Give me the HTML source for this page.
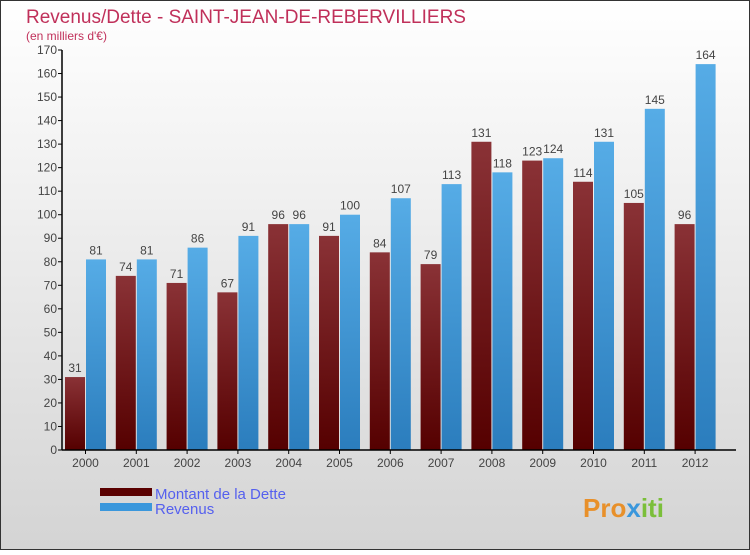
<!DOCTYPE html>
<html><head><meta charset="utf-8"><style>
body{margin:0;width:750px;height:550px;overflow:hidden}
svg text{font-family:"Liberation Sans",sans-serif}
</style></head><body>
<svg id="c" width="750" height="550" xmlns="http://www.w3.org/2000/svg">
<defs>
<linearGradient id="bg" x1="0" y1="0" x2="0" y2="1"><stop offset="0" stop-color="#ffffff"/><stop offset="1" stop-color="#d4d4d4"/></linearGradient>
<linearGradient id="gd" x1="0" y1="0" x2="0" y2="1"><stop offset="0" stop-color="#8a3236"/><stop offset="1" stop-color="#550000"/></linearGradient>
<linearGradient id="gr" x1="0" y1="0" x2="0" y2="1"><stop offset="0" stop-color="#56ace6"/><stop offset="1" stop-color="#2b7dbd"/></linearGradient>
</defs>
<rect x="0.5" y="0.5" width="749" height="549" fill="url(#bg)" stroke="#333"/>
<text x="26" y="23" font-size="19" fill="#c0305a">Revenus/Dette - SAINT-JEAN-DE-REBERVILLIERS</text>
<text x="26" y="40" font-size="12" fill="#c0305a">(en milliers d'€)</text>
<g id="plot"></g>
<rect x="100" y="488" width="52" height="8" fill="#5a0000"/>
<text x="155" y="499" font-size="15" fill="#5560ee">Montant de la Dette</text>
<rect x="100" y="503" width="52" height="8" fill="#3a97dc"/>
<text x="155" y="514" font-size="15" fill="#5560ee">Revenus</text>
<text x="583" y="517" font-size="26" font-weight="bold" fill="#e8902a">Pro<tspan fill="#3a97dc">x</tspan><tspan fill="#7bbf3a">iti</tspan></text>
</svg>
<script>
const years=["2000","2001","2002","2003","2004","2005","2006","2007","2008","2009","2010","2011","2012"];
const dette=[31,74,71,67,96,91,84,79,131,123,114,105,96];
const revenus=[81,81,86,91,96,100,107,113,118,124,131,145,164];
const yTicks=[0,10,20,30,40,50,60,70,80,90,100,110,120,130,140,150,160,170];
const NS="http://www.w3.org/2000/svg";
const g=document.getElementById('plot');
const x0=62,groupW=50.8,y0=450,yMax=170,h=400;
const y=v=>y0-v/yMax*h;
const gx=i=>x0+i*groupW;
function mk(t,a){const e=document.createElementNS(NS,t);for(const k in a)e.setAttribute(k,a[k]);g.appendChild(e);return e;}
yTicks.forEach(v=>{
 const l=mk('line',{x1:x0-4,x2:x0,y1:y(v),y2:y(v),stroke:'#000'});
 
 
 const t=mk('text',{x:x0-5,y:y(v)+4,'font-size':12,'text-anchor':'end',fill:'#444'});
 t.textContent=v;
 
 
});
years.forEach((yr,i)=>{
 const bx=gx(i)+3;
 const b1=mk('rect',{x:bx,y:y(dette[i]),width:20,height:y0-y(dette[i]),fill:'url(#gd)'});
 
 
 const b2=mk('rect',{x:bx+21,y:y(revenus[i]),width:20,height:y0-y(revenus[i]),fill:'url(#gr)'});
 
 
 const t1=mk('text',{x:bx+10,y:y(dette[i])-5,'font-size':12,'text-anchor':'middle',fill:'#444'});
 t1.textContent=dette[i];
 
 
 const t2=mk('text',{x:bx+31,y:y(revenus[i])-5,'font-size':12,'text-anchor':'middle',fill:'#444'});
 t2.textContent=revenus[i];
 
 
 const tk=mk('line',{x1:bx+20.5,x2:bx+20.5,y1:y0,y2:y0+4,stroke:'#000'});
 
 
 const xl=mk('text',{x:bx+20.5,y:y0+17,'font-size':12,'text-anchor':'middle',fill:'#444'});
 xl.textContent=yr;
 
 
});
const ax=mk('line',{x1:x0,x2:x0,y1:y(yMax),y2:y0,stroke:'#000','stroke-width':1.5});


const bx2=mk('line',{x1:x0,x2:736,y1:y0,y2:y0,stroke:'#000','stroke-width':1.5});


</script>
</body></html>
